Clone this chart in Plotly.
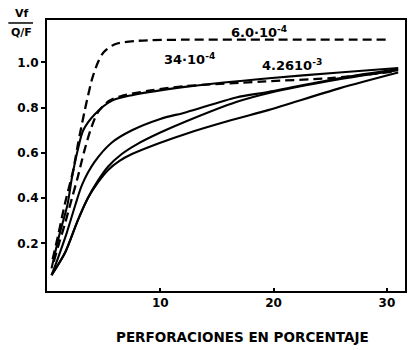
import plotly.graph_objects as go

# Dashed curves
d1_x = [0.5, 1.0, 1.6, 2.3, 2.7, 3.3, 4.0, 4.5, 5.0, 6.0, 8.0, 12.0, 20.0, 30.2]
d1_y = [0.13, 0.24, 0.38, 0.52, 0.63, 0.78, 0.93, 1.00, 1.045, 1.08, 1.095, 1.10, 1.10, 1.10]

d2_x = [0.6, 1.0, 1.6, 2.2, 2.7, 3.3, 3.9, 4.5, 5.5, 6.5, 9.0, 12.3, 18.9, 25.0, 30.8]
d2_y = [0.12, 0.19, 0.29, 0.40, 0.49, 0.61, 0.71, 0.78, 0.83, 0.85, 0.875, 0.895, 0.915, 0.93, 0.96]

# Solid curves
a_x = [0.4, 1.1, 1.8, 2.2, 2.7, 3.2, 4.2, 5.7, 7.5, 12.7, 19.6, 25.8, 31.0]
a_y = [0.09, 0.24, 0.37, 0.49, 0.61, 0.70, 0.77, 0.83, 0.855, 0.895, 0.93, 0.955, 0.975]

b_x = [0.4, 1.0, 1.7, 2.5, 3.1, 4.2, 5.7, 7.5, 10.0, 12.3, 16.7, 19.6, 25.8, 31.0]
b_y = [0.06, 0.14, 0.24, 0.37, 0.46, 0.56, 0.645, 0.70, 0.75, 0.78, 0.845, 0.87, 0.93, 0.97]

c_x = [0.4, 1.6, 2.7, 3.6, 4.4, 5.4, 6.6, 8.0, 10.0, 12.3, 16.7, 19.6, 25.8, 31.0]
c_y = [0.06, 0.16, 0.30, 0.40, 0.47, 0.54, 0.595, 0.64, 0.69, 0.74, 0.825, 0.865, 0.925, 0.965]

dd_x = [0.4, 1.6, 2.7, 3.6, 4.5, 5.4, 6.4, 7.5, 10.0, 12.3, 16.3, 19.6, 25.8, 31.0]
dd_y = [0.06, 0.16, 0.30, 0.40, 0.47, 0.525, 0.565, 0.595, 0.645, 0.685, 0.745, 0.79, 0.885, 0.955]

x_ticks = [10, 20, 30]
y_ticks = [0.2, 0.4, 0.6, 0.8, 1.0]
y_tick_text = ["0.2", "0.4", "0.6", "0.8", "1.0"]

labels = ["6.0·10<sup>-4</sup>", "34·10<sup>-4</sup>", "4.2610<sup>-3</sup>"]
label_x = [18.7, 12.6, 21.6]
label_y = [1.135, 1.013, 0.99]

FONT = "DejaVu Sans"

fig = go.Figure()
for xs, ys in [(d1_x, d1_y), (d2_x, d2_y)]:
    fig.add_trace(go.Scatter(x=xs, y=ys, mode="lines",
                             line=dict(color="black", width=2.3, dash="9px,5px",
                                       shape="spline", smoothing=0.8)))
for xs, ys in [(a_x, a_y), (b_x, b_y), (c_x, c_y), (dd_x, dd_y)]:
    fig.add_trace(go.Scatter(x=xs, y=ys, mode="lines",
                             line=dict(color="black", width=2.1,
                                       shape="spline", smoothing=0.8)))

for t, x, y in zip(labels, label_x, label_y):
    fig.add_annotation(x=x, y=y, text=t, showarrow=False,
                       xanchor="center", yanchor="middle",
                       font=dict(family=FONT, size=13, color="black", weight="bold"))

# y-axis title as a fraction
fig.add_annotation(xref="paper", yref="paper", x=-0.069, y=1.024, text="Vf",
                   xanchor="center", yanchor="middle", showarrow=False,
                   font=dict(family=FONT, size=11, color="black", weight="bold"))
fig.add_annotation(xref="paper", yref="paper", x=-0.072, y=0.955, text="Q/F",
                   xanchor="center", yanchor="middle", showarrow=False,
                   font=dict(family=FONT, size=11, color="black", weight="bold"))
fig.add_shape(type="line", xref="paper", yref="paper", x0=-0.108, x1=-0.039,
              y0=0.989, y1=0.989, line=dict(color="black", width=1.5))

fig.add_annotation(xref="paper", yref="paper", x=0.547, y=-0.17,
                   xanchor="center", yanchor="middle",
                   text="PERFORACIONES EN PORCENTAJE", showarrow=False,
                   font=dict(family=FONT, size=13.5, color="black", weight="bold"))

fig.update_layout(
    width=409, height=350,
    margin=dict(l=47, r=2, t=20, b=59),
    paper_bgcolor="white", plot_bgcolor="white",
    showlegend=False,
)
fig.update_xaxes(range=[0, 31.6], tickvals=x_ticks, ticks="inside", ticklen=3,
                 tickwidth=2, tickcolor="black", showgrid=False, zeroline=False,
                 showline=True, linecolor="black", linewidth=2, mirror=True,
                 tickfont=dict(family=FONT, size=12, color="black", weight="bold"))
fig.update_yaxes(range=[-0.01, 1.187], tickvals=y_ticks, ticktext=y_tick_text,
                 ticks="outside", ticklen=4, tickwidth=2, tickcolor="black",
                 showgrid=False, zeroline=False,
                 showline=True, linecolor="black", linewidth=2, mirror=True,
                 tickfont=dict(family=FONT, size=12, color="black", weight="bold"))

fig.write_html("out.html")
